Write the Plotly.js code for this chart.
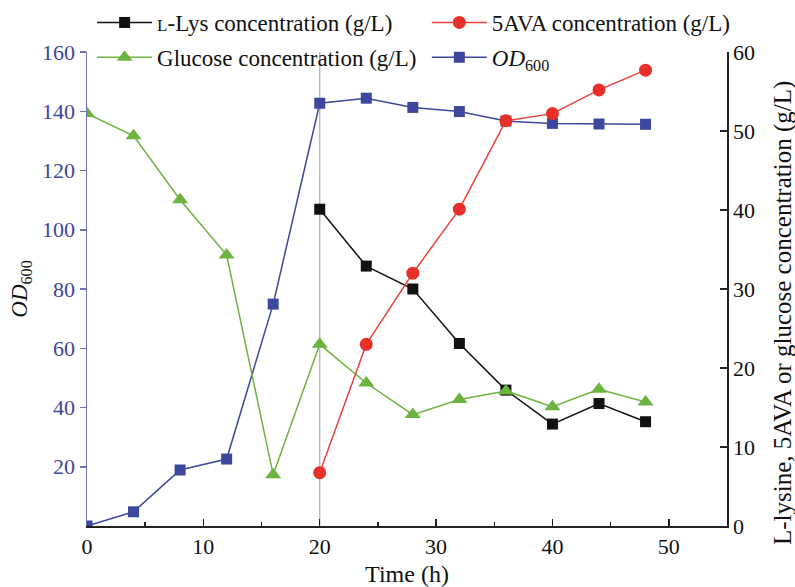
<!DOCTYPE html>
<html>
<head>
<meta charset="utf-8">
<script src="https://cdn.plot.ly/plotly-3.0.1.min.js"></script>
<style>html,body{margin:0;padding:0;background:#fff;}#chart{width:795px;height:587px;}</style>
</head>
<body>
<div id="chart"></div>
<script>
const time = [0, 4, 8, 12, 16, 20, 24, 28, 32, 36, 40, 44, 48];
const timeLate = [20, 24, 28, 32, 36, 40, 44, 48];
const od600 = [0, 4.8, 18.9, 22.6, 74.9, 142.7, 144.4, 141.3, 139.9, 136.7, 135.9, 135.7, 135.6];
const glucose = [52.2, 49.4, 41.3, 34.3, 6.5, 23.0, 18.1, 14.1, 16.0, 17.1, 15.1, 17.3, 15.7];
const lys = [40.1, 32.9, 30.0, 23.1, 17.2, 12.9, 15.5, 13.2];
const ava = [6.75, 23.0, 32.0, 40.1, 51.3, 52.2, 55.2, 57.7];
const leftTicks = [20, 40, 60, 80, 100, 120, 140, 160];
const rightTicks = [0, 10, 20, 30, 40, 50, 60];
const xTicks = [0, 10, 20, 30, 40, 50];

const FONT = 'Liberation Serif, Times New Roman, serif';
const BLUE = '#3d479b';
const BLUE_AXIS = '#6b72b8';

const traces = [
  {x: timeLate, y: lys, yaxis: 'y2', name: '<span style="font-size:17px">L</span>-Lys concentration (g/L)',
   mode: 'lines+markers', line: {color: '#111111', width: 1.5},
   marker: {symbol: 'square', size: 11, color: '#111111'}, legend: 'legend', legendgroup: 'a'},
  {x: time, y: glucose, yaxis: 'y2', name: 'Glucose concentration (g/L)',
   mode: 'lines+markers', line: {color: '#6cb33f', width: 1.5},
   marker: {symbol: 'triangle-up', size: 14, color: '#6cb33f'}, legend: 'legend', legendgroup: 'b'},
  {x: timeLate, y: ava, yaxis: 'y2', name: '5AVA concentration (g/L)',
   mode: 'lines+markers', line: {color: '#e8403a', width: 1.5},
   marker: {symbol: 'circle', size: 13, color: '#e8302a'}, legend: 'legend2', legendgroup: 'c'},
  {x: time, y: od600, yaxis: 'y', name: '<i>OD</i><sub>600</sub>',
   mode: 'lines+markers', line: {color: BLUE, width: 1.5},
   marker: {symbol: 'square', size: 11, color: BLUE}, legend: 'legend2', legendgroup: 'd'}
];

const legendCommon = {
  orientation: 'v', xref: 'paper', yref: 'paper', xanchor: 'left', yanchor: 'top',
  bgcolor: 'rgba(0,0,0,0)', font: {family: FONT, size: 23, color: '#111'},
  tracegroupgap: 2, itemwidth: 55
};

const layout = {
  width: 795, height: 587,
  margin: {l: 87, r: 68, t: 52, b: 61, autoexpand: false},
  paper_bgcolor: '#ffffff', plot_bgcolor: '#ffffff',
  font: {family: FONT, size: 22, color: '#111'},
  showlegend: true,
  legend: Object.assign({}, legendCommon, {x: 0.008, y: 1 + 51/474}),
  legend2: Object.assign({}, legendCommon, {x: 0.531, y: 1 + 51/474}),
  xaxis: {
    range: [0, 55], tickvals: xTicks, ticks: 'inside', ticklen: 7, tickwidth: 1.5, tickcolor: '#222',
    minor: {dtick: 5, tick0: 0, ticks: 'inside', ticklen: 4, tickwidth: 1.5, tickcolor: '#222'},
    showline: true, linecolor: '#222', linewidth: 1.5, showgrid: false, zeroline: false,
    tickfont: {family: FONT, size: 22, color: '#111'}, automargin: false,
    title: {text: 'Time (h)', font: {family: FONT, size: 24, color: '#111'}, standoff: 8}
  },
  yaxis: {
    range: [0, 160], tickvals: leftTicks, ticks: 'outside', ticklen: 6, tickwidth: 1.5, tickcolor: BLUE_AXIS,
    showline: true, linecolor: BLUE_AXIS, linewidth: 1.5, showgrid: false, zeroline: false,
    tickfont: {family: FONT, size: 22, color: BLUE}, automargin: false,
    title: {text: '<i>OD</i><sub>600</sub>', font: {family: FONT, size: 23, color: '#111'}, standoff: 8}
  },
  yaxis2: {
    range: [0, 60], tickvals: rightTicks, overlaying: 'y', side: 'right', anchor: 'x',
    ticks: 'inside', ticklen: 7, tickwidth: 1.5, tickcolor: '#222',
    showline: true, linecolor: '#222', linewidth: 1.5, showgrid: false, zeroline: false,
    tickfont: {family: FONT, size: 22, color: '#111'}, automargin: false
  },
  annotations: [
    {text: 'L-lysine, 5AVA or glucose concentration (g/L)', xref: 'paper', yref: 'paper',
     x: 1 + 56/640, y: 0.5 - 24/474, xanchor: 'center', yanchor: 'middle', textangle: -90,
     showarrow: false, font: {family: FONT, size: 25, color: '#111'}}
  ],
  shapes: [
    {type: 'line', xref: 'x', yref: 'paper', x0: 20, x1: 20, y0: 0, y1: 1,
     line: {color: '#bbbbbb', width: 1.5}, layer: 'below'}
  ]
};

Plotly.newPlot('chart', traces, layout, {displayModeBar: false, staticPlot: true});
</script>
</body>
</html>
